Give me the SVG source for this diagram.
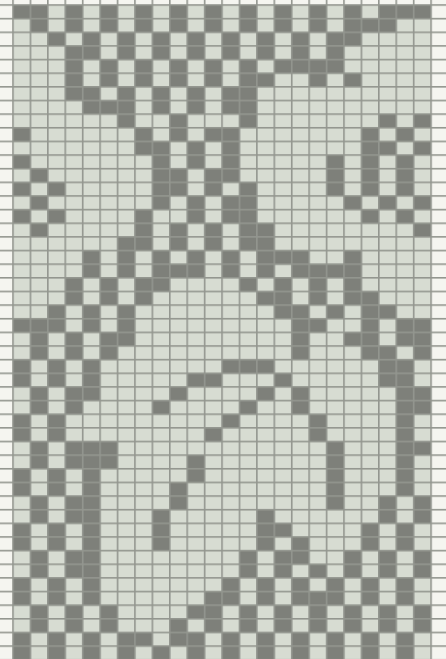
<svg xmlns="http://www.w3.org/2000/svg" width="446" height="659" viewBox="0 0 446 659">
<defs>
<style>
.page{fill:#f5f5f0}
.field{fill:#d7dcd2}
.dark{fill:#7e807a}
.ln{fill:#93968f}
</style>
<pattern id="grid" x="12.2" y="4.2" width="17.42" height="13.64" patternUnits="userSpaceOnUse">
<rect class="ln" x="0" y="0" width="17.42" height="1.6"/>
<rect class="ln" x="0" y="0" width="1.6" height="13.64"/>
</pattern>
</defs>
<g id="background">
<rect class="page" x="0" y="0" width="446" height="659"/>
<rect class="field" x="13" y="5" width="418.08" height="654"/>
</g>
<g id="cells" transform="translate(13,5) scale(17.42,13.64)">
<path class="dark" d="
M0 0h2v1h-2zM3 0h1v1h-1zM5 0h1v1h-1zM7 0h1v1h-1zM9 0h1v1h-1zM11 0h1v1h-1zM13 0h1v1h-1zM15 0h1v1h-1zM17 0h1v1h-1zM19 0h1v1h-1zM21 0h3v1h-3z
M1 1h1v1h-1zM3 1h1v1h-1zM5 1h1v1h-1zM7 1h1v1h-1zM9 1h1v1h-1zM11 1h1v1h-1zM13 1h1v1h-1zM15 1h1v1h-1zM17 1h1v1h-1zM19 1h3v1h-3z
M2 2h1v1h-1zM4 2h1v1h-1zM6 2h1v1h-1zM8 2h1v1h-1zM10 2h1v1h-1zM12 2h1v1h-1zM14 2h1v1h-1zM16 2h1v1h-1zM18 2h2v1h-2z
M3 3h2v1h-2zM6 3h1v1h-1zM8 3h1v1h-1zM10 3h1v1h-1zM12 3h1v1h-1zM14 3h1v1h-1zM16 3h1v1h-1zM18 3h1v1h-1z
M3 4h1v1h-1zM5 4h1v1h-1zM7 4h1v1h-1zM9 4h1v1h-1zM11 4h1v1h-1zM13 4h1v1h-1zM15 4h4v1h-4z
M3 5h1v1h-1zM5 5h1v1h-1zM7 5h1v1h-1zM9 5h1v1h-1zM11 5h1v1h-1zM13 5h2v1h-2zM17 5h1v1h-1zM19 5h1v1h-1z
M3 6h2v1h-2zM6 6h1v1h-1zM8 6h1v1h-1zM10 6h1v1h-1zM12 6h2v1h-2z
M4 7h3v1h-3zM8 7h1v1h-1zM10 7h1v1h-1zM12 7h2v1h-2z
M6 8h1v1h-1zM9 8h1v1h-1zM13 8h1v1h-1zM21 8h1v1h-1zM23 8h1v1h-1z
M0 9h1v1h-1zM7 9h1v1h-1zM9 9h1v1h-1zM11 9h2v1h-2zM20 9h1v1h-1zM22 9h1v1h-1z
M7 10h2v1h-2zM10 10h1v1h-1zM12 10h1v1h-1zM20 10h2v1h-2zM23 10h1v1h-1z
M0 11h1v1h-1zM8 11h1v1h-1zM10 11h1v1h-1zM12 11h1v1h-1zM18 11h1v1h-1zM20 11h1v1h-1zM22 11h1v1h-1z
M1 12h1v1h-1zM8 12h2v1h-2zM11 12h2v1h-2zM18 12h1v1h-1zM20 12h1v1h-1zM22 12h1v1h-1z
M0 13h1v1h-1zM2 13h1v1h-1zM8 13h2v1h-2zM11 13h1v1h-1zM13 13h1v1h-1zM18 13h1v1h-1zM20 13h1v1h-1zM22 13h1v1h-1z
M1 14h1v1h-1zM8 14h1v1h-1zM10 14h1v1h-1zM12 14h2v1h-2zM19 14h1v1h-1zM21 14h1v1h-1zM23 14h1v1h-1z
M0 15h1v1h-1zM2 15h1v1h-1zM7 15h1v1h-1zM10 15h1v1h-1zM12 15h2v1h-2zM20 15h1v1h-1zM22 15h1v1h-1z
M1 16h1v1h-1zM7 16h1v1h-1zM9 16h1v1h-1zM11 16h1v1h-1zM13 16h2v1h-2zM23 16h1v1h-1z
M6 17h2v1h-2zM9 17h1v1h-1zM11 17h1v1h-1zM13 17h2v1h-2z
M4 18h1v1h-1zM6 18h1v1h-1zM8 18h1v1h-1zM10 18h1v1h-1zM12 18h1v1h-1zM14 18h3v1h-3zM19 18h1v1h-1z
M4 19h1v1h-1zM6 19h1v1h-1zM8 19h3v1h-3zM12 19h1v1h-1zM14 19h1v1h-1zM16 19h4v1h-4z
M3 20h1v1h-1zM5 20h1v1h-1zM7 20h2v1h-2zM13 20h1v1h-1zM15 20h1v1h-1zM17 20h1v1h-1zM19 20h1v1h-1z
M3 21h1v1h-1zM5 21h1v1h-1zM7 21h1v1h-1zM14 21h2v1h-2zM17 21h1v1h-1zM19 21h2v1h-2z
M2 22h1v1h-1zM4 22h1v1h-1zM6 22h1v1h-1zM15 22h2v1h-2zM18 22h1v1h-1zM20 22h2v1h-2z
M0 23h3v1h-3zM4 23h1v1h-1zM6 23h1v1h-1zM16 23h2v1h-2zM20 23h1v1h-1zM22 23h2v1h-2z
M1 24h1v1h-1zM3 24h1v1h-1zM5 24h2v1h-2zM16 24h1v1h-1zM19 24h2v1h-2zM22 24h2v1h-2z
M1 25h1v1h-1zM3 25h1v1h-1zM5 25h1v1h-1zM16 25h1v1h-1zM20 25h2v1h-2zM23 25h1v1h-1z
M0 26h1v1h-1zM2 26h1v1h-1zM4 26h1v1h-1zM12 26h3v1h-3zM21 26h2v1h-2z
M0 27h1v1h-1zM2 27h1v1h-1zM4 27h1v1h-1zM10 27h2v1h-2zM15 27h1v1h-1zM21 27h2v1h-2z
M1 28h1v1h-1zM3 28h2v1h-2zM9 28h1v1h-1zM14 28h1v1h-1zM16 28h1v1h-1zM22 28h2v1h-2z
M1 29h1v1h-1zM3 29h1v1h-1zM8 29h1v1h-1zM13 29h1v1h-1zM16 29h1v1h-1zM22 29h2v1h-2z
M0 30h1v1h-1zM2 30h1v1h-1zM12 30h1v1h-1zM17 30h1v1h-1zM22 30h1v1h-1z
M0 31h1v1h-1zM2 31h1v1h-1zM11 31h1v1h-1zM17 31h1v1h-1zM22 31h1v1h-1z
M1 32h1v1h-1zM3 32h3v1h-3zM18 32h1v1h-1zM22 32h2v1h-2z
M1 33h1v1h-1zM3 33h3v1h-3zM10 33h1v1h-1zM18 33h1v1h-1zM22 33h1v1h-1z
M0 34h1v1h-1zM2 34h1v1h-1zM4 34h1v1h-1zM10 34h1v1h-1zM18 34h1v1h-1zM22 34h1v1h-1z
M0 35h1v1h-1zM2 35h1v1h-1zM4 35h1v1h-1zM9 35h1v1h-1zM18 35h1v1h-1zM22 35h1v1h-1z
M1 36h1v1h-1zM3 36h2v1h-2zM9 36h1v1h-1zM18 36h1v1h-1zM21 36h1v1h-1zM23 36h1v1h-1z
M1 37h1v1h-1zM3 37h2v1h-2zM8 37h1v1h-1zM14 37h1v1h-1zM21 37h1v1h-1zM23 37h1v1h-1z
M0 38h1v1h-1zM2 38h1v1h-1zM4 38h1v1h-1zM8 38h1v1h-1zM14 38h2v1h-2zM20 38h1v1h-1zM22 38h1v1h-1z
M0 39h1v1h-1zM2 39h1v1h-1zM4 39h1v1h-1zM8 39h1v1h-1zM14 39h1v1h-1zM16 39h1v1h-1zM20 39h1v1h-1zM22 39h1v1h-1z
M1 40h1v1h-1zM3 40h2v1h-2zM13 40h1v1h-1zM15 40h2v1h-2zM19 40h1v1h-1zM21 40h1v1h-1zM23 40h1v1h-1z
M1 41h1v1h-1zM3 41h2v1h-2zM13 41h1v1h-1zM15 41h1v1h-1zM17 41h1v1h-1zM19 41h1v1h-1zM21 41h1v1h-1zM23 41h1v1h-1z
M0 42h1v1h-1zM2 42h1v1h-1zM4 42h1v1h-1zM12 42h1v1h-1zM14 42h1v1h-1zM16 42h1v1h-1zM18 42h1v1h-1zM20 42h1v1h-1zM22 42h1v1h-1z
M0 43h1v1h-1zM2 43h1v1h-1zM4 43h1v1h-1zM11 43h2v1h-2zM14 43h1v1h-1zM16 43h3v1h-3zM20 43h1v1h-1zM22 43h1v1h-1z
M1 44h1v1h-1zM3 44h1v1h-1zM5 44h1v1h-1zM10 44h2v1h-2zM13 44h1v1h-1zM15 44h1v1h-1zM17 44h1v1h-1zM19 44h1v1h-1zM21 44h1v1h-1zM23 44h1v1h-1z
M1 45h1v1h-1zM3 45h1v1h-1zM5 45h1v1h-1zM9 45h1v1h-1zM11 45h1v1h-1zM13 45h1v1h-1zM15 45h1v1h-1zM17 45h1v1h-1zM19 45h1v1h-1zM21 45h1v1h-1zM23 45h1v1h-1z
M0 46h1v1h-1zM2 46h1v1h-1zM4 46h1v1h-1zM6 46h2v1h-2zM9 46h2v1h-2zM12 46h1v1h-1zM14 46h1v1h-1zM16 46h1v1h-1zM18 46h1v1h-1zM20 46h1v1h-1zM22 46h1v1h-1z
M0 47h1v1h-1zM2 47h1v1h-1zM4 47h1v1h-1zM6 47h1v1h-1zM8 47h1v1h-1zM10 47h1v1h-1zM12 47h1v1h-1zM14 47h1v1h-1zM16 47h1v1h-1zM18 47h1v1h-1zM20 47h1v1h-1zM22 47h1v1h-1z
"/>
</g>
<g id="grid-lines">
<rect x="0" y="0" width="446" height="659" fill="url(#grid)"/>
</g>
</svg>
